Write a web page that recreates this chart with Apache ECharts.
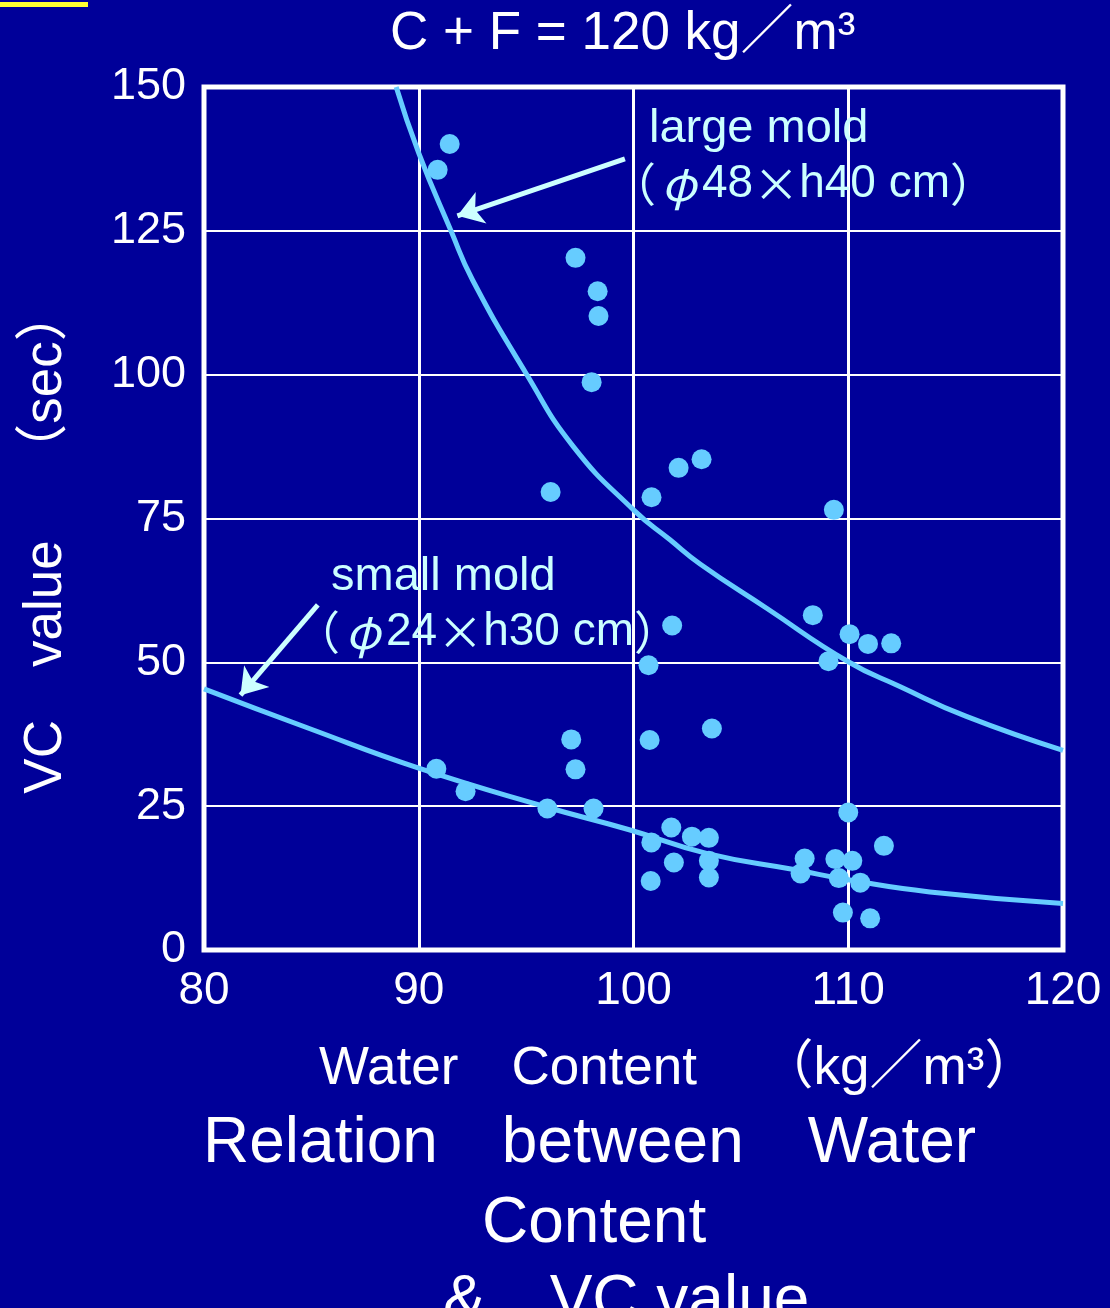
<!DOCTYPE html>
<html>
<head>
<meta charset="utf-8">
<script src="https://cdn.jsdelivr.net/npm/echarts@6/dist/echarts.min.js"></script>
<style>
html, body { margin: 0; padding: 0; background: #000099; }
#main { width: 1110px; height: 1308px; }
</style>
</head>
<body>
<div id="main"></div>
<script>
// axis ticks
var xTicks = [80, 90, 100, 110, 120];
var yTicks = [0, 25, 50, 75, 100, 125, 150];

// measured points : water content (kg/m3) and VC value (sec)
var waterContent = [91.44, 90.88, 97.30, 98.33, 98.37, 98.05, 96.14, 100.84, 102.10, 103.17,
  109.33, 108.35, 110.06, 110.92, 112.00, 109.08, 101.80, 100.70,
  97.10, 97.30, 100.75, 103.65, 90.82, 92.18, 95.99, 98.14,
  100.83, 101.76, 102.72, 103.51, 101.88, 103.51, 103.51, 100.80,
  110.00, 111.66, 107.97, 107.78, 109.40, 110.19, 109.56, 110.56, 109.75, 111.02];
var vcValue = [140.1, 135.6, 120.3, 114.5, 110.2, 98.7, 79.6, 78.7, 83.8, 85.3,
  76.5, 58.2, 54.9, 53.2, 53.3, 50.2, 56.4, 49.5,
  36.6, 31.4, 36.5, 38.5, 31.5, 27.6, 24.6, 24.6,
  18.7, 21.3, 19.7, 19.5, 15.2, 15.5, 12.6, 12.0,
  23.9, 18.1, 15.9, 13.3, 15.8, 15.5, 12.5, 11.7, 6.5, 5.5];

// fitted curves
var largeCurveX = [88.95, 90.0, 91.5, 92.5, 95.0, 97.2, 100.0, 101.7, 103.1, 106.2, 110.0, 112.4, 115.5, 120.0];
var largeCurveY = [150.0, 138.5, 125.0, 116.5, 100.2, 87.5, 76.5, 71.3, 67.1, 59.4, 50.1, 45.8, 40.6, 34.7];
var smallCurveX = [80.0, 84.9, 90.0, 95.9, 99.8, 103.4, 107.6, 110.0, 113.8, 120.0];
var smallCurveY = [45.4, 38.5, 31.6, 24.9, 20.9, 16.8, 13.9, 12.2, 10.1, 8.1];

// annotation arrows (from, to) in data units
var largeArrow = [[99.6, 137.5], [91.8, 127.6]];
var smallArrow = [[85.3, 60.0], [81.7, 44.3]];

var FONT = "'Liberation Sans', Arial, 'Noto Sans CJK JP', sans-serif";
var CJK = "'Noto Sans CJK JP', sans-serif";
var DOT = '#66ccff';
var NOTE = '#ccffff';

function zip(xs, ys) {
  var out = [];
  for (var i = 0; i < xs.length; i++) out.push([xs[i], ys[i]]);
  return out;
}

function txt(x, y, text, size, color, extra) {
  var el = {
    type: 'text', x: x, y: y, z: 100,
    style: {
      text: text, fill: color, fontSize: size, fontFamily: FONT,
      align: 'left', verticalAlign: 'middle',
      textAlign: 'left', textVerticalAlign: 'middle',
      rich: {
        g: { fontFamily: CJK, fontSize: size, fill: color, color: color },
        p: { fontFamily: CJK, fontSize: size, fontStyle: 'italic', fill: color, color: color, width: size, align: 'center' }
      }
    }
  };
  if (extra) for (var k in extra) el[k] = extra[k];
  return el;
}

var chart = echarts.init(document.getElementById('main'));

chart.setOption({
  backgroundColor: '#000099',
  animation: false,
  grid: {
    left: 204, right: 47, top: 87, bottom: 358,
    show: true, borderColor: '#ffffff', borderWidth: 5
  },
  xAxis: {
    type: 'value',
    min: xTicks[0], max: xTicks[xTicks.length - 1],
    interval: xTicks[1] - xTicks[0],
    axisLine: { show: false },
    axisTick: { show: false },
    axisLabel: { color: '#ffffff', fontSize: 46, fontFamily: FONT, margin: 18 },
    splitLine: { lineStyle: { color: '#ffffff', width: 3 } }
  },
  yAxis: {
    type: 'value',
    min: yTicks[0], max: yTicks[yTicks.length - 1],
    interval: yTicks[1] - yTicks[0],
    axisLine: { show: false },
    axisTick: { show: false },
    axisLabel: { color: '#ffffff', fontSize: 45, fontFamily: FONT, margin: 18 },
    splitLine: { lineStyle: { color: '#ffffff', width: 2 } }
  },
  graphic: [
    { type: 'rect', shape: { x: 0, y: 2, width: 88, height: 5 }, style: { fill: '#ffff33' } },
    txt(390, 34, 'C + F = 120 kg／m³', 53, '#ffffff'),
    txt(649, 129, 'large mold', 47, NOTE),
    txt(610, 184, '{g|（}{p|φ}48{g|×}h40 cm{g|）}', 46, NOTE),
    txt(331, 577, 'small mold', 47, NOTE),
    txt(294, 632, '{g|（}{p|φ}24{g|×}h30 cm{g|）}', 46, NOTE),
    txt(319, 1069, 'Water　Content　\u2009（kg／m³）', 53, '#ffffff'),
    txt(203, 1144, 'Relation　between　Water', 64, '#ffffff'),
    txt(482, 1224, 'Content', 64, '#ffffff'),
    txt(443, 1302, '&　VC value', 64, '#ffffff'),
    {
      type: 'text', x: 46, y: 541, rotation: Math.PI / 2, z: 100,
      style: {
        text: 'VC　value　\u2009（sec）', fill: '#ffffff', fontSize: 53, fontFamily: FONT,
        align: 'center', verticalAlign: 'middle',
        textAlign: 'center', textVerticalAlign: 'middle'
      }
    }
  ],
  series: [
    {
      name: 'large mold', type: 'line', z: 2,
      data: zip(largeCurveX, largeCurveY),
      smooth: 0.5, showSymbol: false, symbol: 'none',
      lineStyle: { color: DOT, width: 5 }
    },
    {
      name: 'small mold', type: 'line', z: 2,
      data: zip(smallCurveX, smallCurveY),
      smooth: 0.5, showSymbol: false, symbol: 'none',
      lineStyle: { color: DOT, width: 5 }
    },
    {
      name: 'measured', type: 'scatter', z: 3,
      data: zip(waterContent, vcValue),
      symbolSize: 20,
      itemStyle: { color: DOT, opacity: 1 }
    },
    {
      name: 'arrows', type: 'lines', coordinateSystem: 'cartesian2d', z: 4,
      symbol: ['none', 'arrow'], symbolSize: 25,
      lineStyle: { color: NOTE, width: 5, opacity: 1, curveness: 0 },
      data: [{ coords: largeArrow }, { coords: smallArrow }]
    }
  ]
});
</script>
</body>
</html>
